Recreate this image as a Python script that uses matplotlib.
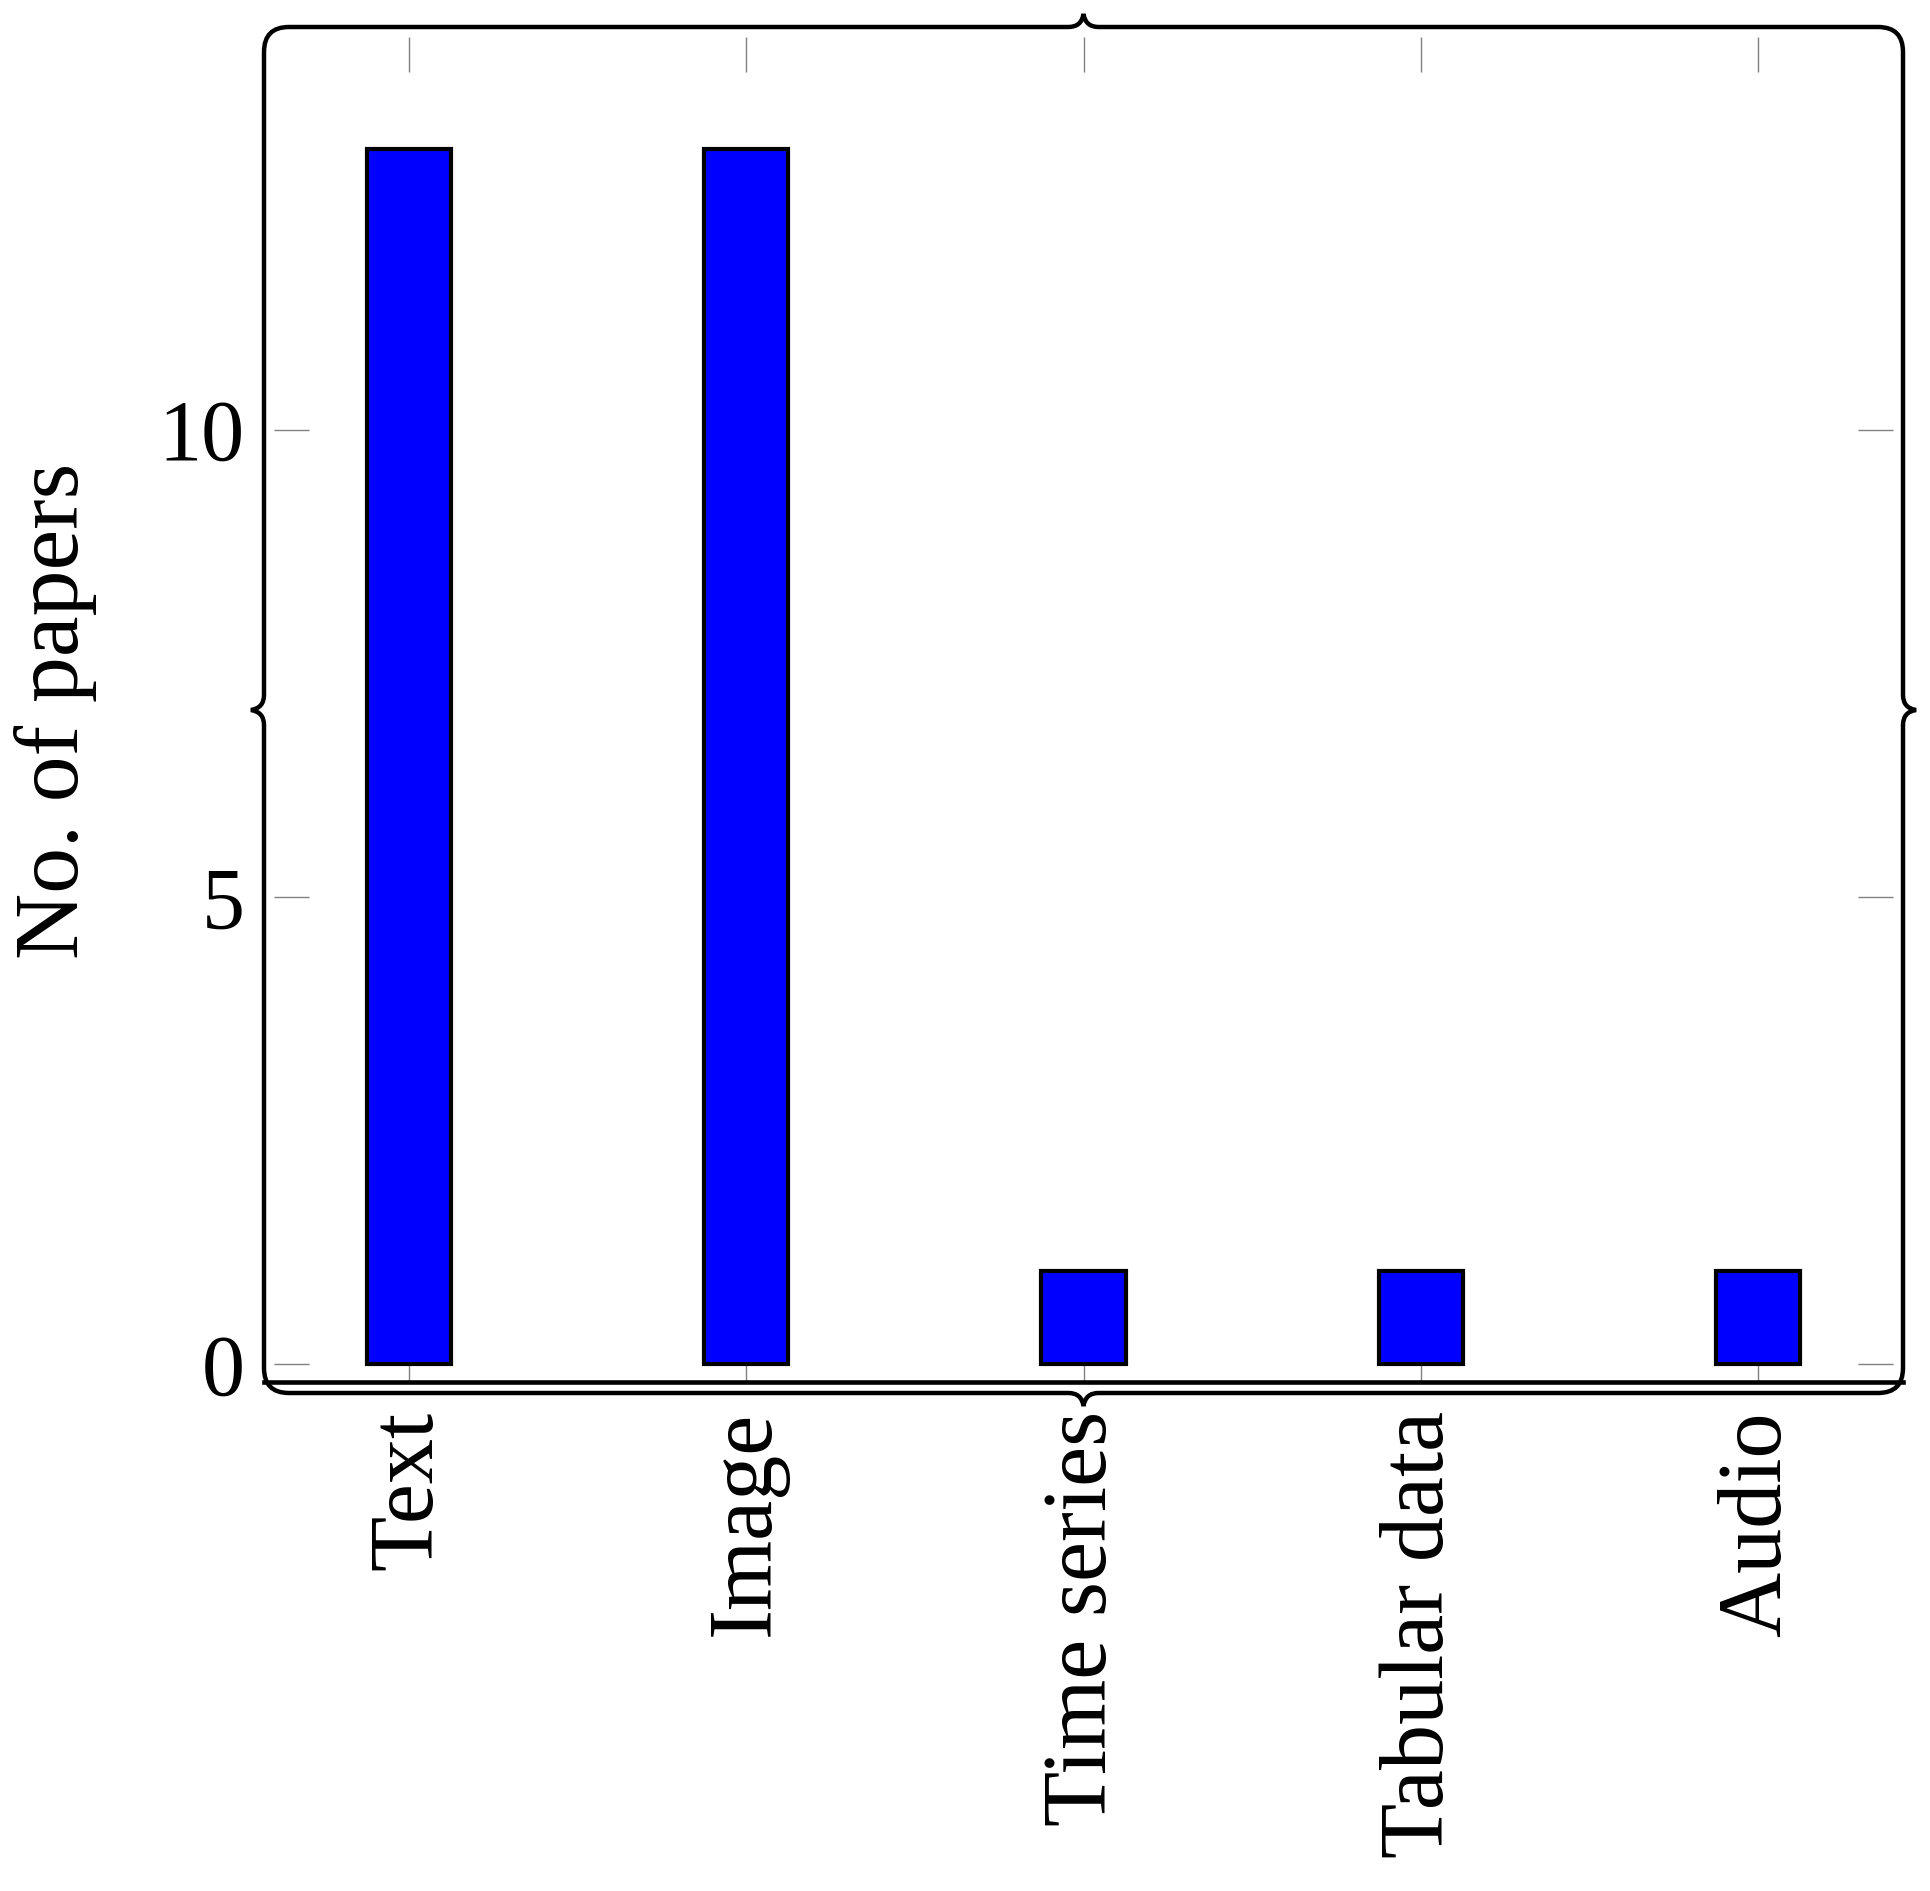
import matplotlib
matplotlib.use("Agg")
import matplotlib.pyplot as plt
from matplotlib.path import Path
from matplotlib.patches import PathPatch
from matplotlib.transforms import Affine2D

categories = ["Text", "Image", "Time series", "Tabular data", "Audio"]
papers = [13, 13, 1, 1, 1]
yticks = [0, 5, 10]

plt.rcParams["font.family"] = ["Liberation Serif", "DejaVu Serif"]

W, H = 1931, 1891
fig = plt.figure(figsize=(W / 100, H / 100), dpi=100)

# frame box in pixels (y up)
L, R, B, T = 264, 1903, 498, 1864
ax = fig.add_axes([L / W, B / H, (R - L) / W, (T - B) / H])

x = list(range(len(categories)))
ax.bar(x, papers, width=0.25, color="#0000ff", edgecolor="black",
       linewidth=3.0, zorder=3)

ax.set_xlim(-0.43, 4.43)
ax.set_ylim(-0.305, 14.31)
ax.set_axisbelow(True)

for s in ["left", "right", "top"]:
    ax.spines[s].set_visible(False)
    ax.spines[s].set_position(("outward", -7.0))
ax.spines["bottom"].set_position(("data", -0.187))
ax.spines["bottom"].set_linewidth(3.3)

ax.tick_params(axis="both", direction="in", length=25, width=1.0,
               color="#808080", top=True, right=True)
ax.tick_params(axis="x", pad=21, labelsize=65)
ax.tick_params(axis="y", pad=21, labelsize=62)

ax.set_xticks(x)
ax.set_xticklabels(categories, rotation=90, fontsize=65, va="top", ha="center")
ax.set_yticks(yticks)
ax.set_yticklabels([str(v) for v in yticks], fontsize=62)

# rounded frame with little braces in the middle of each side
r, bw, bh = 25, 15, 13
cx, cy = (L + R) / 2, (B + T) / 2
C3 = Path.CURVE3
verts = [
    ((L, T - r), Path.MOVETO), ((L, T), C3), ((L + r, T), C3),
    ((cx - bw, T), Path.LINETO), ((cx - 2, T), C3), ((cx, T + bh), C3),
    ((cx + 2, T), C3), ((cx + bw, T), C3),
    ((R - r, T), Path.LINETO), ((R, T), C3), ((R, T - r), C3),
    ((R, cy + bw), Path.LINETO), ((R, cy + 2), C3), ((R + bh, cy), C3),
    ((R, cy - 2), C3), ((R, cy - bw), C3),
    ((R, B + r), Path.LINETO), ((R, B), C3), ((R - r, B), C3),
    ((cx + bw, B), Path.LINETO), ((cx + 2, B), C3), ((cx, B - bh), C3),
    ((cx - 2, B), C3), ((cx - bw, B), C3),
    ((L + r, B), Path.LINETO), ((L, B), C3), ((L, B + r), C3),
    ((L, cy - bw), Path.LINETO), ((L, cy - 2), C3), ((L - bh, cy), C3),
    ((L, cy + 2), C3), ((L, cy + bw), C3),
    ((L, T - r), Path.LINETO),
]
path = Path([v for v, c in verts], [c for v, c in verts])
frame = PathPatch(path, facecolor="none", edgecolor="black", linewidth=3.2,
                  transform=Affine2D().scale(1 / W, 1 / H) + fig.transFigure,
                  clip_on=False, zorder=5)
fig.patches.append(frame)

fig.text(56 / W, (H - 711) / H, "No. of papers", rotation=90,
         ha="center", va="center", fontsize=66)

fig.savefig("out.png", dpi=100)
